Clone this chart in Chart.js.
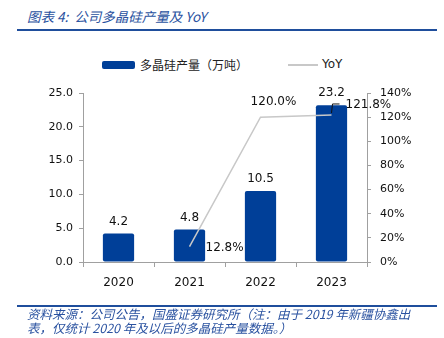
<!DOCTYPE html>
<html lang="zh">
<head>
<meta charset="UTF-8">
<title>公司多晶硅产量及 YoY</title>
<script src="https://cdn.jsdelivr.net/npm/chart.js"></script>
<style>
  html, body { margin: 0; padding: 0; background: #fff; }
  #wrap { position: relative; width: 444px; height: 338px; overflow: hidden; }
  #chart { position: absolute; left: 0; top: 0; }
  .title { position: absolute; left: 27px; top: 6px; font: italic 13.5px "Noto Sans CJK SC", sans-serif; color: #2a52a0; }
  .rule { position: absolute; left: 17px; width: 420px; height: 2px; background: #1f4e9c; }
  .foot { position: absolute; left: 27px; top: 307px; font: italic 12.5px/14px "Noto Sans CJK SC", sans-serif; color: #2a52a0; }
  .legend { position: absolute; top: 56px; font: 12px "Noto Sans CJK SC", sans-serif; color: #222; }
  .lg-box { position: absolute; left: 102px; top: 61px; width: 33px; height: 8px; background: #003f98; border-radius: 2px; }
  .lg-line { position: absolute; left: 288px; top: 64px; width: 30px; height: 1.5px; background: #c8c8c8; }
</style>
</head>
<body>
<div id="wrap">
  <div class="title">图表 4:&nbsp; 公司多晶硅产量及 YoY</div>
  <div class="rule" style="top:29px"></div>
  <div class="lg-box"></div>
  <div class="legend" style="left:140px">多晶硅产量（万吨）</div>
  <div class="lg-line"></div>
  <div class="legend" style="left:322px;top:57px;font-family:'DejaVu Sans',sans-serif">YoY</div>
  <canvas id="chart" width="444" height="338"></canvas>
  <div class="rule" style="top:305px"></div>
  <div class="foot">资料来源：公司公告，国盛证券研究所（注：由于 2019 年新疆协鑫出<br>表，仅统计 2020 年及以后的多晶硅产量数据。）</div>
</div>
<script>
  const years = ['2020', '2021', '2022', '2023'];
  const output = [4.2, 4.8, 10.5, 23.2];      // 多晶硅产量（万吨）
  const yoy = [null, 12.8, 120.0, 121.8];      // YoY (%)
  const leftTicks = [0, 5, 10, 15, 20, 25];
  const rightTicks = [0, 20, 40, 60, 80, 100, 120, 140];

  const axisColor = '#a0a0a0';
  const tickFont = { family: 'DejaVu Sans', size: 11 };

  // value labels for bars and line
  const labelPlugin = {
    id: 'labels',
    afterDatasetsDraw(chart) {
      const ctx = chart.ctx;
      ctx.save();
      ctx.font = '12px "DejaVu Sans"';
      ctx.fillStyle = '#111';
      ctx.textBaseline = 'alphabetic';
      ctx.textAlign = 'center';
      chart.getDatasetMeta(0).data.forEach((bar, i) => {
        ctx.fillText(output[i].toFixed(1), bar.x, bar.y - 9);
      });
      const pts = chart.getDatasetMeta(1).data;
      ctx.textBaseline = 'middle';
      ctx.textAlign = 'left';
      yoy.forEach((v, i) => {
        if (v === null) return;
        const p = pts[i];
        const txt = v.toFixed(1) + '%';
        if (i === 1) {
          ctx.fillText(txt, p.x + 16, p.y + 1);
        } else if (i === 2) {
          ctx.textAlign = 'center';
          ctx.fillText(txt, p.x + 13, p.y - 15);
          ctx.textAlign = 'left';
        } else {
          ctx.strokeStyle = '#111';
          ctx.lineWidth = 1;
          ctx.beginPath();
          ctx.moveTo(p.x, p.y - 2);
          ctx.lineTo(p.x + 1, p.y - 11);
          ctx.lineTo(p.x + 8, p.y - 11);
          ctx.stroke();
          ctx.fillText(txt, p.x + 14, p.y - 10);
        }
      });
      ctx.restore();
    }
  };

  new Chart(document.getElementById('chart'), {
    data: {
      labels: years,
      datasets: [
        {
          type: 'bar',
          label: '多晶硅产量（万吨）',
          data: output,
          backgroundColor: '#003f98',
          borderRadius: 2,
          borderSkipped: false,
          categoryPercentage: 0.88,
          barPercentage: 0.5,
          yAxisID: 'y',
          order: 2
        },
        {
          type: 'line',
          label: 'YoY',
          data: yoy,
          borderColor: '#c8c8c8',
          borderWidth: 1.5,
          pointRadius: 0,
          tension: 0,
          yAxisID: 'y1',
          order: 1
        }
      ]
    },
    options: {
      responsive: false,
      animation: false,
      layout: { padding: { top: 93, left: 0, right: 0, bottom: 0 } },
      plugins: { legend: { display: false }, tooltip: { enabled: false } },
      scales: {
        x: {
          grid: { drawOnChartArea: false, color: axisColor, tickLength: 5, offset: true },
          border: { color: axisColor },
          ticks: { font: { family: 'DejaVu Sans', size: 12 }, color: '#111', padding: 9 },
          afterFit(s) { s.height = 76; }
        },
        y: {
          position: 'left',
          min: 0, max: 25,
          afterBuildTicks(s) { s.ticks = leftTicks.map(v => ({ value: v })); },
          grid: { drawOnChartArea: false, color: axisColor, tickLength: 4 },
          border: { color: axisColor },
          ticks: { font: tickFont, color: '#111', padding: 6, callback: v => v.toFixed(1) },
          afterFit(s) { s.width = 83; }
        },
        y1: {
          position: 'right',
          min: 0, max: 140,
          afterBuildTicks(s) { s.ticks = rightTicks.map(v => ({ value: v })); },
          grid: { drawOnChartArea: false, color: axisColor, tickLength: 4 },
          border: { color: axisColor },
          ticks: { font: tickFont, color: '#111', padding: 9, callback: v => v + '%' },
          afterFit(s) { s.width = 77; }
        }
      }
    },
    plugins: [labelPlugin]
  });
</script>
</body>
</html>
